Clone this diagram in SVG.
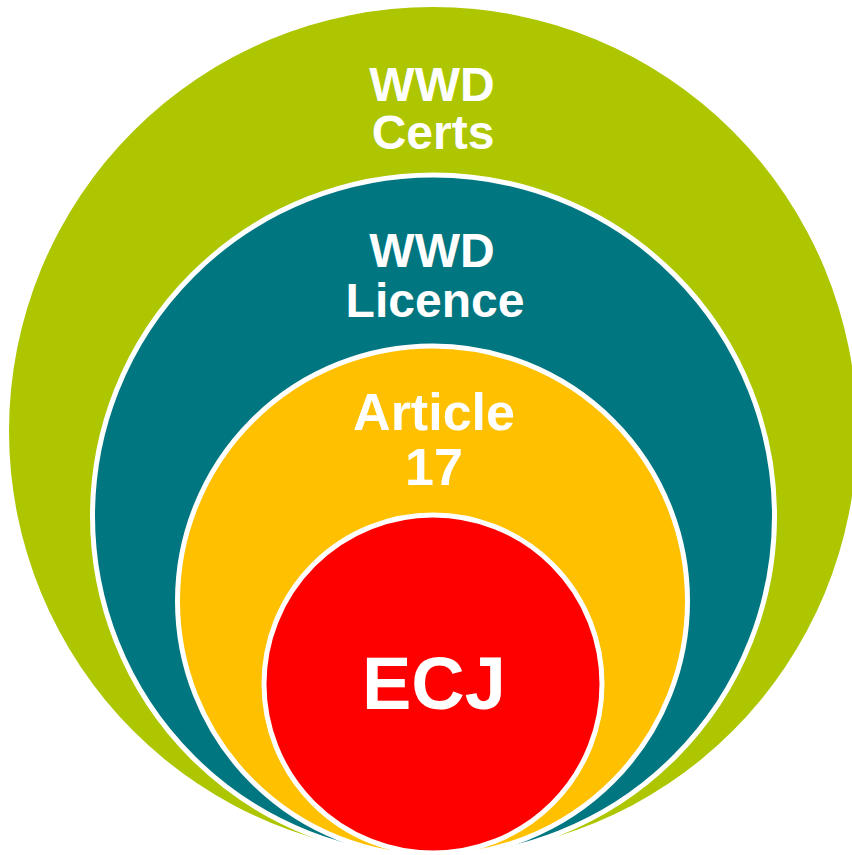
<svg xmlns="http://www.w3.org/2000/svg" width="852" height="855" viewBox="0 0 852 855">
<style>
.ring{stroke:#ffffff;stroke-width:5}
.lbl{font-family:"Liberation Sans",Arial,sans-serif;font-weight:bold;fill:#ffffff;text-anchor:middle}
</style>
<rect width="852" height="855" fill="#ffffff"/>
<g id="wwd-certs">
<circle cx="433" cy="431" r="424" fill="#adc600"/>
<text class="lbl" x="432" y="101" font-size="48">WWD</text>
<text class="lbl" x="433" y="149" font-size="48">Certs</text>
</g>
<g id="wwd-licence">
<circle class="ring" cx="433.5" cy="516" r="341" fill="#007680"/>
<text class="lbl" x="432" y="267" font-size="48">WWD</text>
<text class="lbl" x="435" y="317" font-size="48">Licence</text>
</g>
<g id="article-17">
<circle class="ring" cx="432.5" cy="601" r="255" fill="#ffc000"/>
<text class="lbl" x="434" y="430" font-size="52">Article</text>
<text class="lbl" x="434" y="485" font-size="52">17</text>
</g>
<g id="ecj">
<circle class="ring" cx="433" cy="684" r="169" fill="#ff0000"/>
<text class="lbl" x="434" y="709" font-size="74">ECJ</text>
</g>
<g id="connectors"></g>
</svg>
